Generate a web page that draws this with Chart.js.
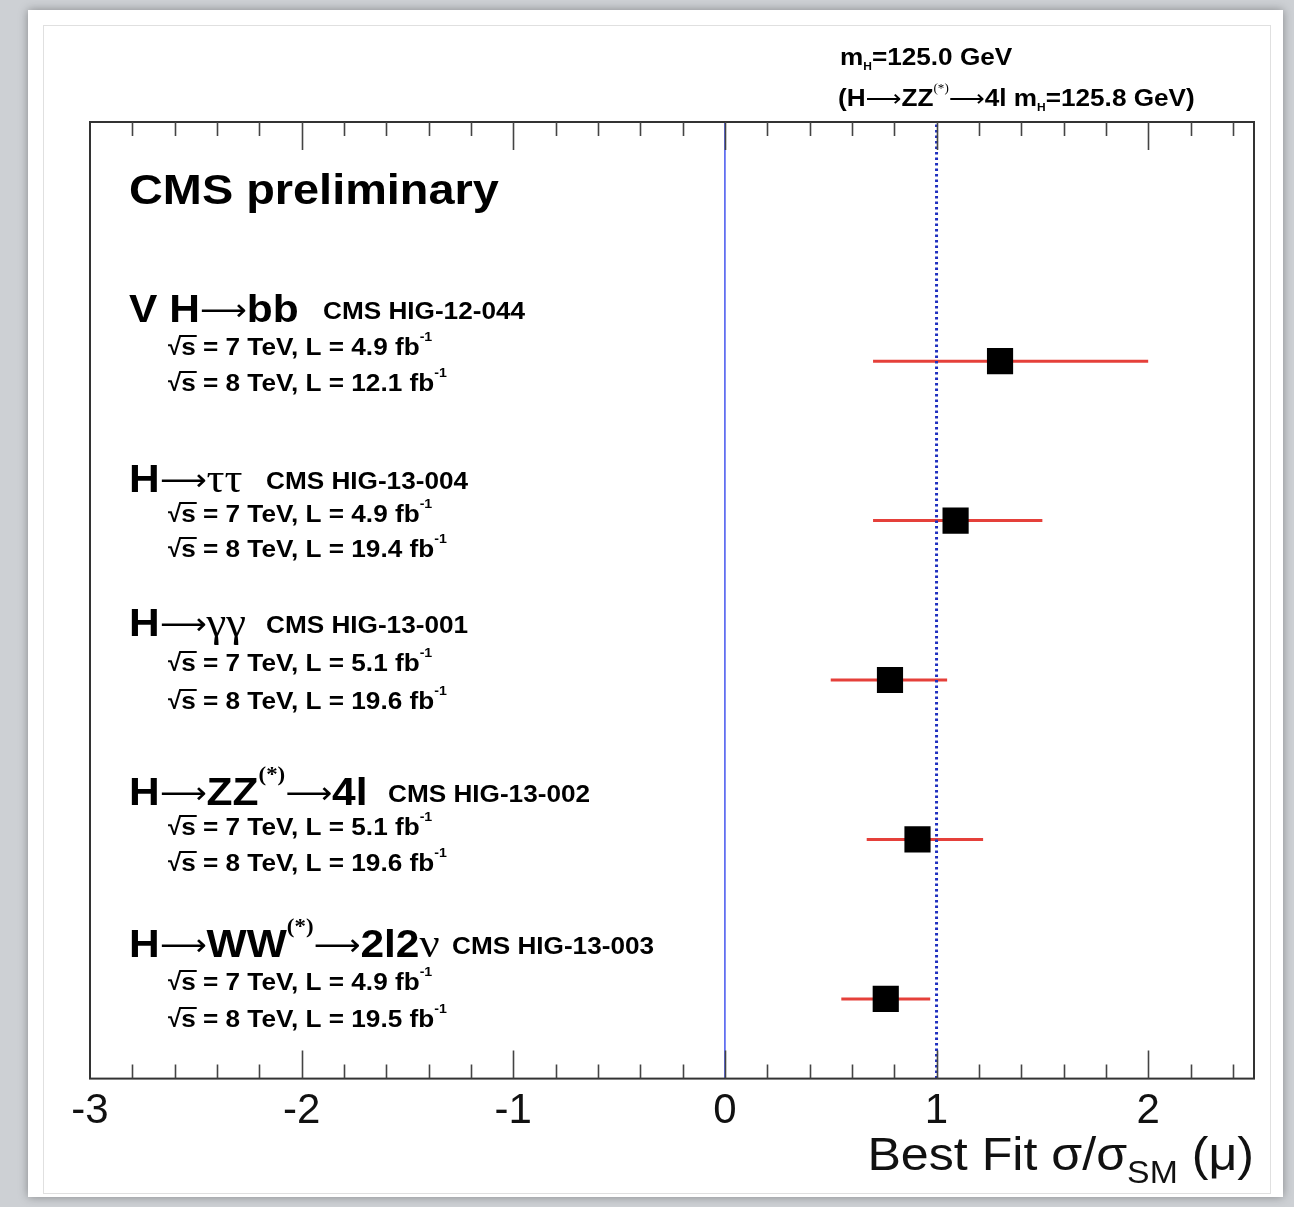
<!DOCTYPE html>
<html>
<head>
<meta charset="utf-8">
<script src="https://cdn.jsdelivr.net/npm/chart.js@4.4.1/dist/chart.umd.min.js"></script>
<style>
  html, body { margin: 0; padding: 0; }
  body { width: 1294px; height: 1207px; background: #cdd0d4; position: relative; overflow: hidden; }
  .card { position: absolute; left: 28px; top: 10px; width: 1255px; height: 1187px; background: #fff; box-shadow: 0 0 9px rgba(0,0,0,.35); }
  .inner { position: absolute; left: 43px; top: 25px; width: 1226px; height: 1167px; border: 1px solid #e0e0e0; }
  #wrap { position: absolute; left: 0; top: 0; width: 1294px; height: 1207px; }
</style>
</head>
<body>
<div class="card"></div>
<div class="inner"></div>
<div id="wrap"><canvas id="muChart"></canvas></div>
<script>
// signal strength per channel, top to bottom
const channels = ["VH→bb", "H→ττ", "H→γγ", "H→ZZ→4l", "H→WW→2l2ν"];
const rowY = [4.5, 3.5, 2.5, 1.5, 0.5];
const bestFit = [1.3, 1.09, 0.78, 0.91, 0.76];
const errLow = [0.7, 0.7, 0.5, 0.67, 0.55];
const errHigh = [2.0, 1.5, 1.05, 1.22, 0.97];
const refs = ["CMS HIG-12-044", "CMS HIG-13-004", "CMS HIG-13-001", "CMS HIG-13-002", "CMS HIG-13-003"];
const lumi7 = ["4.9", "4.9", "5.1", "5.1", "4.9"];
const lumi8 = ["12.1", "19.4", "19.6", "19.6", "19.5"];
const xTicks = [-3, -2, -1, 0, 1, 2];

const SANS = "'Liberation Sans', Arial, sans-serif";
const SX = 1.09; // text in the picture is a little wide

function runs(ctx, x, y, parts) {
  for (const p of parts) {
    ctx.font = p.f;
    ctx.save();
    ctx.translate(x, y + (p.dy || 0));
    ctx.scale(SX, 1);
    ctx.fillText(p.t, 0, 0);
    ctx.restore();
    x += ctx.measureText(p.t).width * SX + (p.gap || 0);
  }
  return x;
}

function sqrtS(ctx, x, y, rest) {
  ctx.font = "bold 24px " + SANS;
  ctx.fillText("√", x, y);
  const w = ctx.measureText("√").width;
  const sw = ctx.measureText("s").width * SX;
  ctx.fillRect(x + w - 2, y - 20, sw + 3, 2);
  return runs(ctx, x + w, y, rest);
}

const B = (s) => "bold " + s + "px " + SANS;
const ARROW = "30px 'DejaVu Sans'";
const GREEK = "41px 'Liberation Serif'";
const AR = "⟶";
const STAR = "bold 21px 'Liberation Serif'";

const titleRuns = [
  [{t: "V H", f: B(39)}, {t: AR, f: ARROW, dy: -2}, {t: "bb", f: B(39)}],
  [{t: "H", f: B(39)}, {t: AR, f: ARROW, dy: -2}, {t: "ττ", f: GREEK}],
  [{t: "H", f: B(39)}, {t: AR, f: ARROW, dy: -2}, {t: "γγ", f: GREEK}],
  [{t: "H", f: B(39)}, {t: AR, f: ARROW, dy: -2}, {t: "ZZ", f: B(39)}, {t: "(*)", f: STAR, dy: -24}, {t: AR, f: ARROW, dy: -2}, {t: "4l", f: B(39)}],
  [{t: "H", f: B(39)}, {t: AR, f: ARROW, dy: -2}, {t: "WW", f: B(39)}, {t: "(*)", f: STAR, dy: -24}, {t: AR, f: ARROW, dy: -2}, {t: "2l2", f: B(39)}, {t: "ν", f: GREEK}]
];
const titleBase = [322, 492, 636, 805, 957];
const refX = [323, 266, 266, 388, 452];
const sub1Base = [355, 522, 671, 835, 990];
const sub2Base = [391, 557, 709, 871, 1027];

const decorPlugin = {
  id: "decor",
  beforeDatasetsDraw(chart) {
    const {ctx} = chart;
    ctx.save();
    ctx.fillStyle = "#000";
    ctx.textBaseline = "alphabetic";
    runs(ctx, 129, 204, [{t: "CMS preliminary", f: B(43)}]);
    for (let i = 0; i < channels.length; i++) {
      runs(ctx, 129, titleBase[i], titleRuns[i]);
      runs(ctx, refX[i], titleBase[i] - 3, [{t: refs[i], f: B(24)}]);
      sqrtS(ctx, 168, sub1Base[i], [{t: "s = 7 TeV, L = " + lumi7[i] + " fb", f: B(24)}, {t: "-1", f: B(13), dy: -14}]);
      sqrtS(ctx, 168, sub2Base[i], [{t: "s = 8 TeV, L = " + lumi8[i] + " fb", f: B(24)}, {t: "-1", f: B(13), dy: -14}]);
    }
    // header top right
    const HA = "23px 'DejaVu Sans'";
    runs(ctx, 840, 65, [{t: "m", f: B(24)}, {t: "H", f: B(11), dy: 5}, {t: "=125.0 GeV", f: B(24)}]);
    runs(ctx, 838, 106, [{t: "(H", f: B(24)}, {t: AR, f: HA}, {t: "ZZ", f: B(24)}, {t: "(*)", f: "12px 'Liberation Serif'", dy: -14},
      {t: AR, f: HA}, {t: "4l m", f: B(24)}, {t: "H", f: B(11), dy: 5}, {t: "=125.8 GeV)", f: B(24)}]);
    ctx.restore();
  },
  afterDatasetsDraw(chart) {
    const {ctx, chartArea: a, scales: {x}} = chart;
    ctx.save();
    ctx.strokeStyle = "#333";
    ctx.lineWidth = 2;
    ctx.strokeRect(a.left, a.top, a.right - a.left, a.bottom - a.top);
    ctx.strokeStyle = "#444";
    ctx.lineWidth = 1.6;
    ctx.beginPath();
    for (let k = -28; k <= 24; k += 2) {
      const px = Math.round(x.getPixelForValue(k / 10)) + 0.5;
      const len = k % 10 === 0 ? 28 : 14;
      ctx.moveTo(px, a.bottom); ctx.lineTo(px, a.bottom - len);
      ctx.moveTo(px, a.top); ctx.lineTo(px, a.top + len);
    }
    ctx.stroke();
    // x title, right aligned to the frame
    ctx.fillStyle = "#111";
    const parts = [{t: "Best Fit σ/σ", f: "46px " + SANS}, {t: "SM", f: "31px " + SANS, dy: 13}, {t: " (μ)", f: "46px " + SANS}];
    let w = 0;
    for (const p of parts) { ctx.font = p.f; w += ctx.measureText(p.t).width * SX; }
    runs(ctx, a.right - w, 1170, parts);
    ctx.restore();
  }
};

const line = (pts, color, width, dash, order) => ({
  type: "line", data: pts, borderColor: color, borderWidth: width, borderDash: dash || [],
  pointRadius: 0, fill: false, order: order
});

const datasets = [
  {
    type: "scatter",
    data: bestFit.map((v, i) => ({x: v, y: rowY[i]})),
    pointStyle: "rect", pointRadius: 18.5, backgroundColor: "#000", borderColor: "#000", borderWidth: 0, order: 0
  },
  line([{x: 0, y: 0}, {x: 0, y: 6}], "#4455ee", 1.5, [], 1),
  line([{x: 1, y: 0}, {x: 1, y: 6}], "#1f2fbf", 3, [2.5, 3], 1),
  ...channels.map((c, i) => line([{x: errLow[i], y: rowY[i]}, {x: errHigh[i], y: rowY[i]}], "#e5403a", 3, [], 3))
];

new Chart(document.getElementById("muChart"), {
  type: "scatter",
  data: {datasets},
  options: {
    responsive: true,
    maintainAspectRatio: false,
    animation: false,
    layout: {padding: {left: 90, right: 40, top: 122, bottom: 62}},
    plugins: {legend: {display: false}, tooltip: {enabled: false}},
    scales: {
      x: {
        type: "linear", min: -3, max: 2.5,
        afterBuildTicks: (s) => { s.ticks = xTicks.map((v) => ({value: v})); },
        grid: {display: false, drawTicks: false},
        border: {display: false},
        ticks: {color: "#111", font: {family: SANS, size: 42}, padding: 8, maxRotation: 0, autoSkip: false}
      },
      y: {type: "linear", min: 0, max: 6, display: false}
    }
  },
  plugins: [decorPlugin]
});
</script>
</body>
</html>
